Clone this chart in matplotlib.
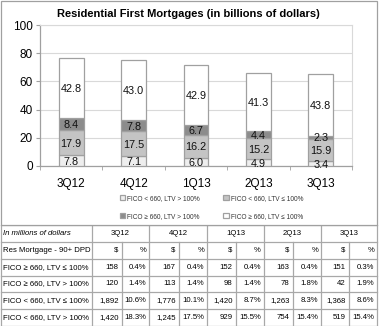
import matplotlib
matplotlib.use("Agg")
import matplotlib.pyplot as plt
from matplotlib.patches import Rectangle
from matplotlib.lines import Line2D
import numpy as np

plt.rcParams['font.family'] = ['Liberation Sans', 'DejaVu Sans']

quarters = ["3Q12", "4Q12", "1Q13", "2Q13", "3Q13"]
series_names = ["FICO < 660, LTV > 100%", "FICO < 660, LTV \u2264 100%",
                "FICO \u2265 660, LTV > 100%", "FICO \u2265 660, LTV \u2264 100%"]
lo_ltv_hi = [7.8, 7.1, 6.0, 4.9, 3.4]
lo_ltv_lo = [17.9, 17.5, 16.2, 15.2, 15.9]
hi_ltv_hi = [8.4, 7.8, 6.7, 4.4, 2.3]
hi_ltv_lo = [42.8, 43.0, 42.9, 41.3, 43.8]
series_values = [lo_ltv_hi, lo_ltv_lo, hi_ltv_hi, hi_ltv_lo]
series_colors = ["#eeeeee", "#c4c4c4", "#8c8c8c", "#ffffff"]
yticks = [0, 20, 40, 60, 80, 100]

table_corner = "In millions of dollars"
table_sub = "Res Mortgage - 90+ DPD"
table_rows = ["FICO \u2265 660, LTV \u2264 100%", "FICO \u2265 660, LTV > 100%",
              "FICO < 660, LTV \u2264 100%", "FICO < 660, LTV > 100%"]
table_dollars = [
    ["158", "167", "152", "163", "151"],
    ["120", "113", "98", "78", "42"],
    ["1,892", "1,776", "1,420", "1,263", "1,368"],
    ["1,420", "1,245", "929", "754", "519"],
]
table_pct = [
    ["0.4%", "0.4%", "0.4%", "0.4%", "0.3%"],
    ["1.4%", "1.4%", "1.4%", "1.8%", "1.9%"],
    ["10.6%", "10.1%", "8.7%", "8.3%", "8.6%"],
    ["18.3%", "17.5%", "15.5%", "15.4%", "15.4%"],
]

W, H = 379, 326
fig = plt.figure(figsize=(W / 100, H / 100), dpi=100)
fig.patch.set_facecolor("white")

edge = "#a0a0a0"
# chart border box
fig.add_artist(Rectangle((0.6 / W, 1 - 225 / H), 376.5 / W, 224.5 / H,
                         transform=fig.transFigure, fill=False, ec=edge, lw=0.9))

ax = fig.add_axes([40 / W, (H - 166) / H, 312 / W, 141 / H])
x = np.arange(len(quarters))
bottom = np.zeros(len(quarters))
handles = []
for name, vals, col in zip(series_names, series_values, series_colors):
    vals = np.array(vals)
    bc = ax.bar(x, vals, 0.4, bottom=bottom, color=col, edgecolor=edge, lw=0.9,
                label=name, zorder=3)
    handles.append(bc)
    for xi, b, v in zip(x, bottom, vals):
        ax.text(xi, b + v / 2 - 0.8, f"{v:.1f}", ha="center", va="center",
                fontsize=7.8, color="#111111", zorder=4)
    bottom += vals

ax.set_xlim(-0.5, len(quarters) - 0.5)
ax.set_ylim(0, 100)
ax.set_yticks(yticks)
ax.set_yticklabels([str(t) for t in yticks], fontsize=8.5)
ax.set_xticks(x)
ax.set_xticklabels(quarters, fontsize=8.5)
ax.set_xticks(np.arange(len(quarters) + 1) - 0.5, minor=True)
ax.tick_params(axis="x", which="major", length=0, pad=9)
ax.tick_params(axis="x", which="minor", length=3, color=edge, direction="out")
ax.tick_params(axis="y", length=3, color=edge, pad=2)
ax.grid(axis="y", color="#d9d9d9", lw=0.8, zorder=0)
for s in ["left", "bottom"]:
    ax.spines[s].set_color(edge)
    ax.spines[s].set_linewidth(0.9)
ax.spines["top"].set_color("#d9d9d9")
ax.spines["right"].set_color("#d9d9d9")
ax.spines["top"].set_linewidth(0.8)
ax.spines["right"].set_linewidth(0.8)

fig.text(188.5 / W, 1 - 14 / H, "Residential First Mortgages (in billions of dollars)",
         ha="center", va="center", fontsize=8, fontweight="bold")

order = [0, 2, 1, 3]
leg = ax.legend([handles[i] for i in order], [series_names[i] for i in order],
                loc="center", bbox_to_anchor=(0.55, -0.294), ncol=2, fontsize=4.7,
                frameon=False, handlelength=0.8, handleheight=0.8,
                columnspacing=3.6, labelspacing=1.6, handletextpad=0.3,
                borderpad=0, borderaxespad=0)
for t in leg.get_texts():
    t.set_color("#333333")

# table
tax = fig.add_axes([0, 0, 1, 101 / H])
tax.set_xlim(0, W)
tax.set_ylim(6, 0)
tax.axis("off")
cols = [0.6, 92, 121.5, 149, 178.5, 207, 235.5, 264, 292.5, 321, 348.5, 377]
lc = "#a8a8a8"
lw = 0.9
fs = 5.6
for r in range(0, 7):
    tax.add_line(Line2D([cols[0], cols[-1]], [r, r], color=lc, lw=lw))
for i, c in enumerate(cols):
    if i in (0, 1, len(cols) - 1) or (i - 1) % 2 == 0:
        tax.add_line(Line2D([c, c], [0, 6], color=lc, lw=lw))
    else:
        tax.add_line(Line2D([c, c], [1, 6], color=lc, lw=lw))

tax.text(3, 0.5, table_corner, ha="left", va="center", fontsize=fs, style="italic")
tax.text(3, 1.5, table_sub, ha="left", va="center", fontsize=fs)
for q, name in enumerate(quarters):
    c0 = cols[1 + 2 * q]
    c1 = cols[2 + 2 * q]
    c2 = cols[3 + 2 * q]
    tax.text((c0 + c2) / 2, 0.5, name, ha="center", va="center", fontsize=fs)
    tax.text(c1 - 3, 1.5, "$", ha="right", va="center", fontsize=fs)
    tax.text(c2 - 3, 1.5, "%", ha="right", va="center", fontsize=fs)
    for r in range(len(table_rows)):
        tax.text(c1 - 3, 2.5 + r, table_dollars[r][q], ha="right", va="center", fontsize=fs)
        tax.text(c2 - 3, 2.5 + r, table_pct[r][q], ha="right", va="center", fontsize=fs)
for r, name in enumerate(table_rows):
    tax.text(3, 2.5 + r, name, ha="left", va="center", fontsize=fs)

fig.savefig("out.png", dpi=100, facecolor="white")
